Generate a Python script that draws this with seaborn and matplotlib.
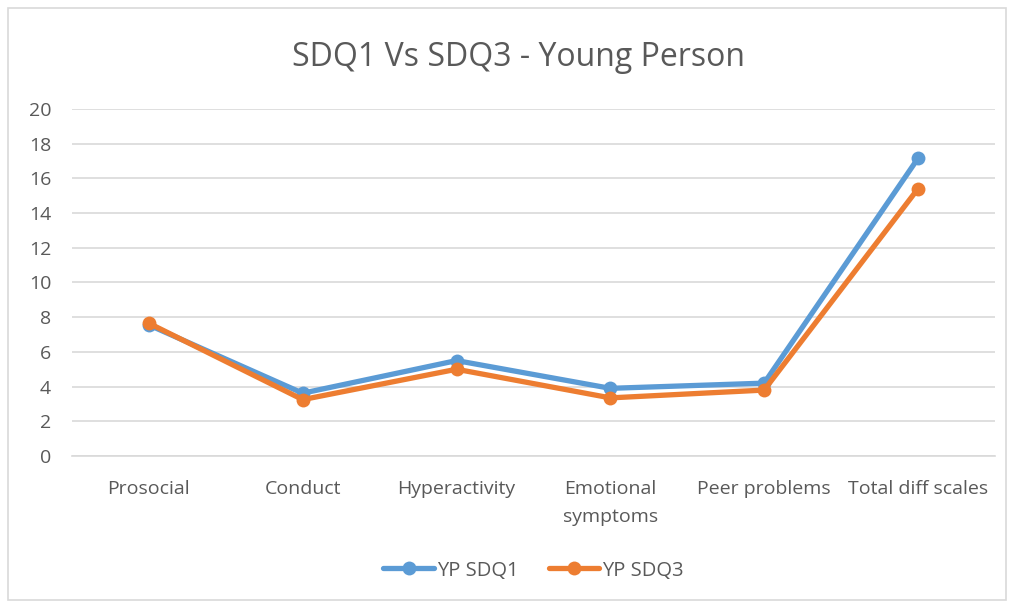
import pandas as pd
import seaborn as sns
import matplotlib.pyplot as plt
from matplotlib.patches import Rectangle

categories = ["Prosocial", "Conduct", "Hyperactivity", "Emotional\nsymptoms",
              "Peer problems", "Total diff scales"]
yp_sdq1 = [7.55, 3.62, 5.5, 3.9, 4.2, 17.15]
yp_sdq3 = [7.65, 3.25, 5.0, 3.35, 3.8, 15.4]
series_names = ["YP SDQ1", "YP SDQ3"]
y_ticks = list(range(0, 21, 2))

df = pd.DataFrame({
    "category": categories * 2,
    "value": yp_sdq1 + yp_sdq3,
    "series": [series_names[0]] * len(categories) + [series_names[1]] * len(categories),
})

sns.set_theme(style="white")
plt.rcParams["font.family"] = ["Open Sans", "DejaVu Sans"]
text_col = "#595959"

fig = plt.figure(figsize=(10.1, 6.02), dpi=100)
ax = fig.add_axes([0.0713, 0.2425, 0.9137, 0.5765])

sns.lineplot(data=df, x="category", y="value", hue="series", sort=False,
             palette=["#5B9BD5", "#ED7D31"], marker="o", markersize=10,
             markeredgewidth=0, linewidth=3.8, ax=ax)

ax.set_xlim(-0.5, len(categories) - 0.5)
ax.set_ylim(0, 20)
ax.set_yticks(y_ticks)
ax.yaxis.grid(True, color="#D9D9D9", linewidth=1.2)
ax.set_axisbelow(True)
for s in ["top", "right", "left"]:
    ax.spines[s].set_visible(False)
ax.spines["bottom"].set_color("#D9D9D9")
ax.spines["bottom"].set_linewidth(1.2)
ax.tick_params(axis="both", length=0, labelsize=14, colors=text_col)
ax.tick_params(axis="x", pad=17)
ax.tick_params(axis="y", pad=15)
for lbl in ax.get_xticklabels():
    lbl.set_linespacing(1.75)
ax.set_xlabel("")
ax.set_ylabel("")

fig.text(0.513, 0.905, "SDQ1 Vs SDQ3 - Young Person", ha="center", va="center",
         fontsize=23, color=text_col)

leg = ax.legend(loc="center", bbox_to_anchor=(0.5, -0.33), ncol=2, frameon=False,
                fontsize=14.5, handlelength=2.5, columnspacing=1.5, handletextpad=0.15)
for t in leg.get_texts():
    t.set_color(text_col)

fig.patches.append(Rectangle((0.008, 0.003), 0.988, 0.984, transform=fig.transFigure,
                             fill=False, edgecolor="#D9D9D9", linewidth=1.2))

fig.savefig("out.png", dpi=100)
